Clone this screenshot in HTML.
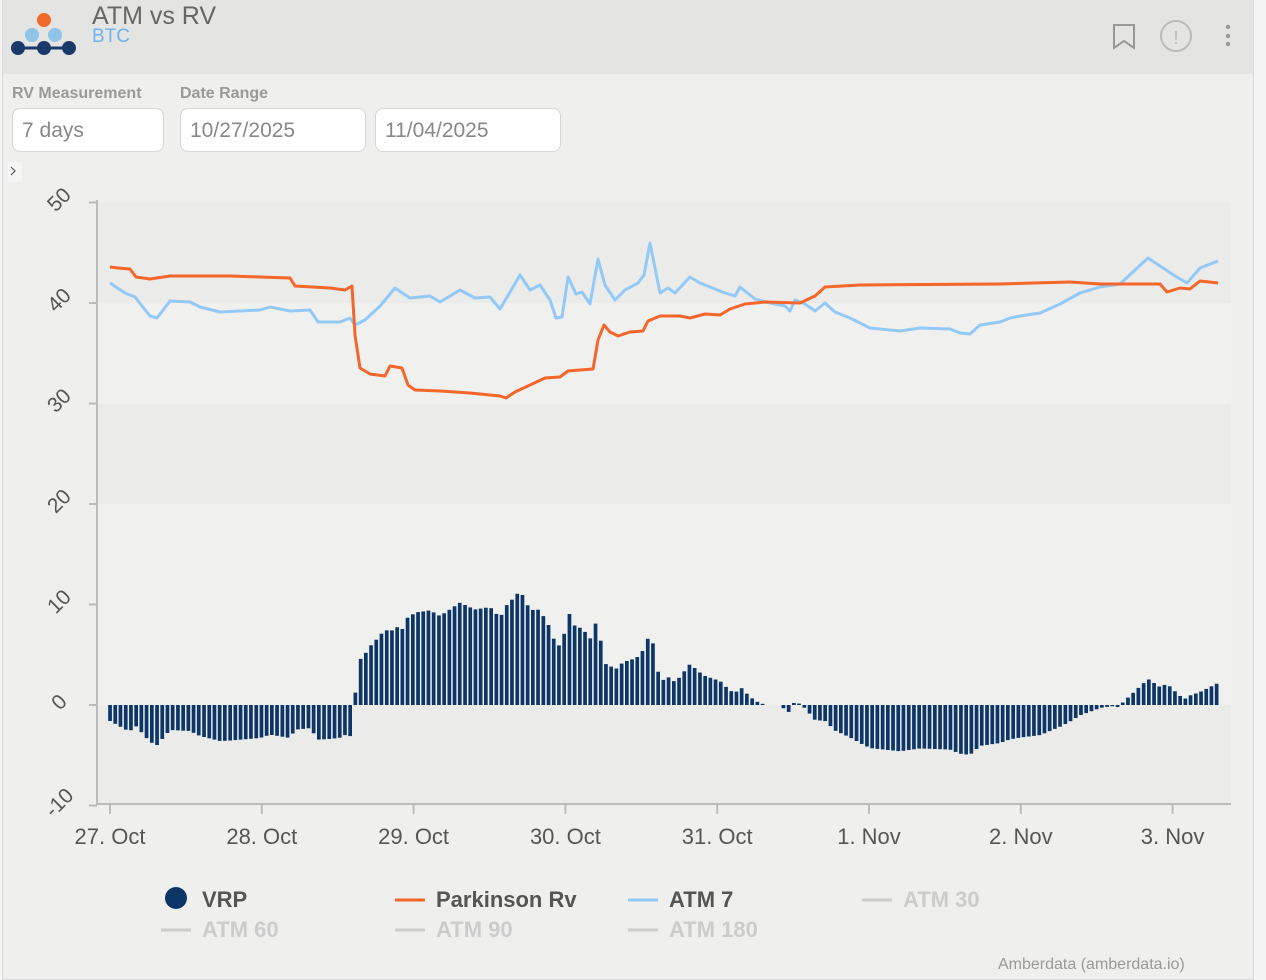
<!DOCTYPE html>
<html><head><meta charset="utf-8"><style>
body{margin:0;width:1266px;height:966px;background:#f4f4f4;font-family:"Liberation Sans",sans-serif;overflow:hidden;position:relative}
.card{position:absolute;left:2px;top:-2px;width:1250px;height:980px;background:#efefee;border:1px solid #d8d8d8}
.hdr{position:absolute;left:0;top:0;width:1250px;height:75px;background:#e4e4e3}
.t{position:absolute;color:#666}
.inp{position:absolute;top:108px;height:44px;border:1.5px solid #d6d6d6;border-radius:8px;background:#fff;box-sizing:border-box;color:#888;font-size:21px;padding:10px 0 0 9px}
.lbl{position:absolute;top:85px;font-size:16px;font-weight:bold;color:#999}
</style></head><body>
<div class="card">
<div class="hdr"></div>
</div>
<svg width="1266" height="966" style="position:absolute;left:0;top:0" id="s">
<circle cx="44" cy="20" r="7" fill="#f06b2b"/>
<circle cx="32" cy="35" r="7" fill="#8fc3e8"/><circle cx="55" cy="35" r="7" fill="#8fc3e8"/>
<line x1="16" y1="48" x2="71" y2="48" stroke="#1b3a6b" stroke-width="3"/>
<circle cx="18" cy="48" r="7" fill="#1b3a6b"/><circle cx="44" cy="48" r="7" fill="#1b3a6b"/><circle cx="69" cy="48" r="7" fill="#1b3a6b"/>
<path d="M1114 25h20v23l-10-7-10 7z" fill="none" stroke="#999" stroke-width="2"/>
<circle cx="1176" cy="36" r="15" fill="none" stroke="#bbb" stroke-width="2"/>
<text x="1176" y="44" font-size="18" fill="#bbb" text-anchor="middle" font-family="Liberation Sans">!</text>
<circle cx="1228" cy="27" r="2.2" fill="#999"/><circle cx="1228" cy="36" r="2.2" fill="#999"/><circle cx="1228" cy="44" r="2.2" fill="#999"/>
<rect x="8" y="162" width="14" height="20" fill="#f6f6f6"/>
<path d="M11 167l4 4-4 4" fill="none" stroke="#555" stroke-width="1.2"/>
<g id="plot"></g>
</svg>
<div class="t" style="left:92px;top:2px;font-size:25px">ATM vs RV</div>
<div class="t" style="left:92px;top:26px;font-size:19px;color:#6db3f0">BTC</div>
<div class="lbl" style="left:12px">RV Measurement</div>
<div class="lbl" style="left:180px">Date Range</div>
<div class="inp" style="left:12px;width:152px">7 days</div>
<div class="inp" style="left:180px;width:186px">10/27/2025</div>
<div class="inp" style="left:375px;width:186px">11/04/2025</div>
<div class="t" style="left:998px;top:956px;font-size:16px;color:#999">Amberdata (amberdata.io)</div>
<script>
var g=document.getElementById('plot'),h='';
function Y(v){return 705-10.05*v}
var bands=[[40,50,'#ebebea'],[30,40,'#f0f0ef'],[20,30,'#ebebea'],[10,20,'#f0f0ef'],[0,10,'#f0f0ef'],[-10,0,'#ebebea']];
bands.forEach(function(b){h+='<rect x="98" y="'+Y(b[1])+'" width="1133" height="'+(Y(b[0])-Y(b[1]))+'" fill="'+b[2]+'"/>'});
h+='<line x1="97" y1="200" x2="97" y2="805" stroke="#bbb" stroke-width="2"/><line x1="97" y1="804" x2="1231" y2="804" stroke="#bbb" stroke-width="2"/>';
for(var v=-10;v<=50;v+=10){var y=Y(v);h+='<line x1="89" y1="'+y+'" x2="97" y2="'+y+'" stroke="#bbb" stroke-width="2"/>';
h+='<text x="0" y="0" font-size="21" fill="#555" text-anchor="middle" transform="translate(64,'+(y+2)+') rotate(-45)">'+v+'</text>';}
var days=['27. Oct','28. Oct','29. Oct','30. Oct','31. Oct','1. Nov','2. Nov','3. Nov'];
days.forEach(function(d,i){var x=110+i*151.8;h+='<line x1="'+x+'" y1="804" x2="'+x+'" y2="814" stroke="#bbb" stroke-width="2"/><text x="'+x+'" y="844" font-size="22" fill="#555" text-anchor="middle">'+d+'</text>'});
var O=[[110,267],[118,268],[130,269],[136,277],[150,279],[170,276],[200,276],[230,276],[260,277],[290,278],[295,286],[330,288],[345,290],[352,286],[355,335],[360,368],[370,374],[385,376],[390,366],[402,368],[408,385],[415,390],[440,391],[470,393],[500,396],[506,398],[515,392],[530,385],[545,378],[560,377],[568,371],[580,370],[593,369],[598,340],[604,325],[610,332],[618,336],[630,332],[643,331],[648,321],[660,316],[680,316],[690,318],[705,314],[720,315],[730,309],[745,304],[765,302],[800,303],[815,296],[825,287],[860,285],[1000,284],[1070,282],[1100,284],[1160,284],[1167,292],[1180,288],[1190,289],[1200,281],[1218,283]];
var B=[[110,283],[125,293],[135,297],[150,316],[157,318],[170,301],[190,302],[200,307],[220,312],[260,310],[270,307],[290,311],[310,310],[318,322],[340,322],[350,318],[355,325],[365,320],[380,306],[395,288],[410,298],[430,296],[440,302],[460,290],[475,298],[490,297],[500,309],[520,275],[530,290],[540,285],[550,300],[556,318],[562,317],[568,277],[576,294],[582,292],[590,304],[598,259],[605,285],[615,300],[625,290],[638,283],[644,275],[650,243],[660,293],[668,288],[675,293],[690,277],[700,283],[710,287],[725,293],[735,296],[740,287],[755,299],[770,303],[785,306],[790,311],[795,300],[805,304],[815,311],[825,303],[835,312],[850,318],[870,328],[900,331],[920,328],[950,329],[960,333],[970,334],[980,325],[1000,322],[1010,318],[1020,316],[1040,313],[1060,304],[1080,293],[1100,287],[1120,284],[1135,270],[1148,258],[1160,266],[1175,276],[1187,283],[1200,268],[1218,261]];
function interp(P,x){for(var i=1;i<P.length;i++){if(x<=P[i][0]){var a=P[i-1],b=P[i];return a[1]+(b[1]-a[1])*(x-a[0])/(b[0]-a[0]);}}return P[P.length-1][1]}
for(var x=110;x<=1219;x+=5.22){if(x>765&&x<780)continue;var d=interp(O,x)-interp(B,x);if(Math.abs(d)<1)d=d<0?-2:2;
var y0=d>0?705-d:705;h+='<rect x="'+(x-1.8).toFixed(1)+'" y="'+y0.toFixed(1)+'" width="3.7" height="'+Math.abs(d).toFixed(1)+'" fill="#0d3668"/>';}
function pl(P,c){return '<polyline points="'+P.map(function(p){return p.join(',')}).join(' ')+'" fill="none" stroke="'+c+'" stroke-width="3" stroke-linejoin="round"/>'}
h+=pl(B,'#93c9f7')+pl(O,'#f4662a');
var fs=' font-size="22" font-weight="bold" ';
h+='<circle cx="176" cy="898" r="11" fill="#0d3668"/><text x="202" y="907"'+fs+'fill="#555">VRP</text>';
h+='<line x1="395" y1="900" x2="425" y2="900" stroke="#f4662a" stroke-width="3"/><text x="436" y="907"'+fs+'fill="#555">Parkinson Rv</text>';
h+='<line x1="628" y1="900" x2="658" y2="900" stroke="#93c9f7" stroke-width="3"/><text x="669" y="907"'+fs+'fill="#555">ATM 7</text>';
[[862,900,'ATM 30'],[161,930,'ATM 60'],[395,930,'ATM 90'],[628,930,'ATM 180']].forEach(function(a){h+='<line x1="'+a[0]+'" y1="'+a[1]+'" x2="'+(a[0]+30)+'" y2="'+a[1]+'" stroke="#ccc" stroke-width="3"/><text x="'+(a[0]+41)+'" y="'+(a[1]+7)+'"'+fs+'fill="#ccc">'+a[2]+'</text>'});
g.innerHTML=h;
</script>
</body></html>
